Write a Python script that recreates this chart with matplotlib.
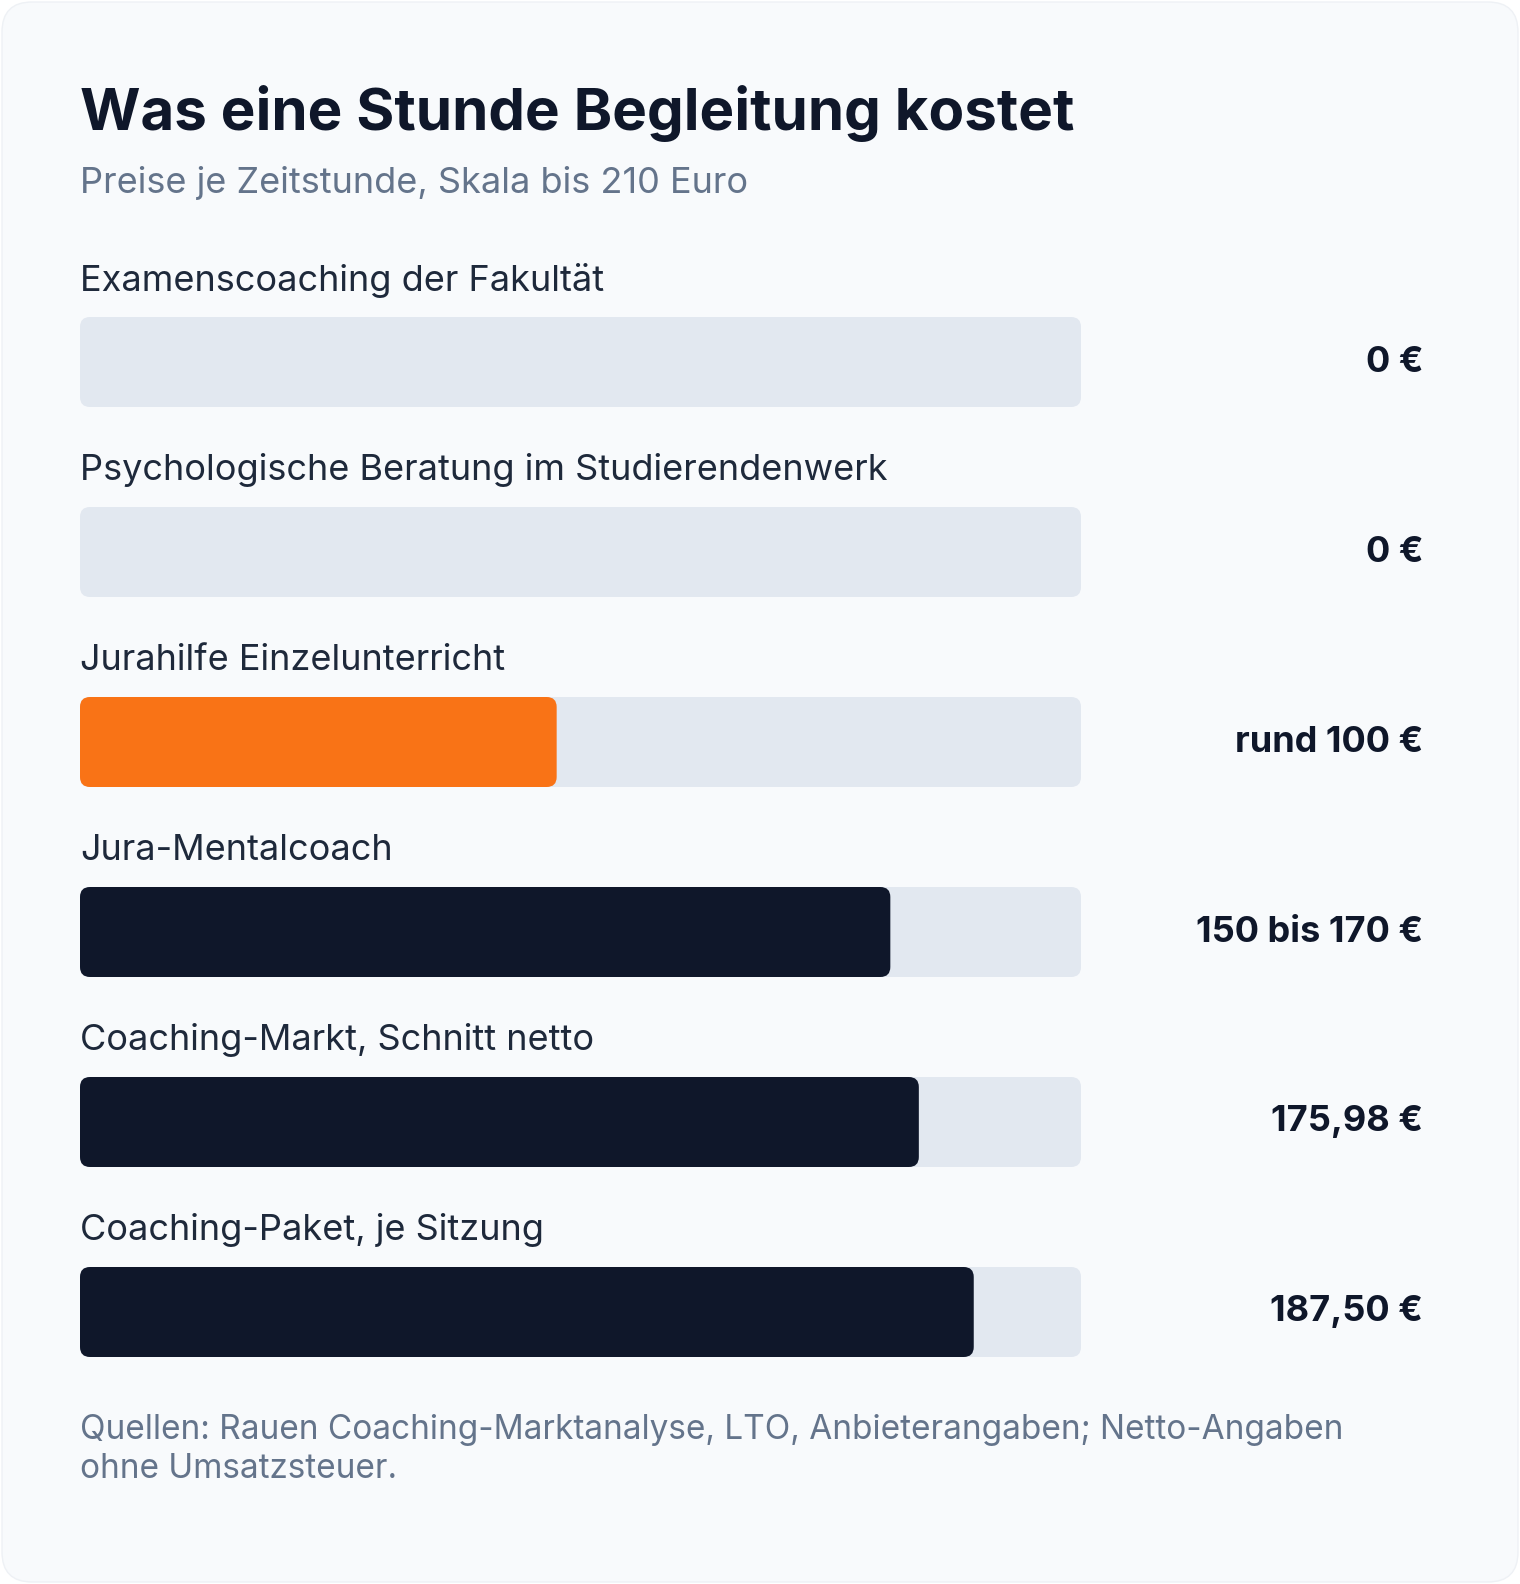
import matplotlib
matplotlib.use("Agg")
import matplotlib.pyplot as plt
from matplotlib.patches import FancyBboxPatch

plt.rcParams["font.family"] = ["Inter", "DejaVu Sans"]

labels = [
    "Examenscoaching der Fakultät",
    "Psychologische Beratung im Studierendenwerk",
    "Jurahilfe Einzelunterricht",
    "Jura-Mentalcoach",
    "Coaching-Markt, Schnitt netto",
    "Coaching-Paket, je Sitzung",
]
values = [0, 0, 100, 170, 175.98, 187.50]
value_texts = ["0 €", "0 €", "rund 100 €", "150 bis 170 €", "175,98 €", "187,50 €"]
colors = ["#0f172a", "#0f172a", "#f97316", "#0f172a", "#0f172a", "#0f172a"]
scale_max = 210

W, H = 1520, 1584
fig = plt.figure(figsize=(W / 100, H / 100), dpi=100)
fig.patch.set_facecolor("white")

# background axes in pixel coords
bg = fig.add_axes([0, 0, 1, 1])
bg.set_xlim(0, W)
bg.set_ylim(H, 0)
bg.axis("off")
bg.add_patch(FancyBboxPatch((2, 2), W - 4, H - 4, boxstyle="round,pad=0,rounding_size=30",
                            fc="#f8fafc", ec="#eef1f5", lw=1))
bg.text(80, 113, "Was eine Stunde Begleitung kostet", fontsize=42, fontweight="bold",
        color="#0f172a", va="center")
bg.text(80, 183, "Preise je Zeitstunde, Skala bis 210 Euro", fontsize=26,
        color="#64748b", va="center")
bg.text(80, 1430, "Quellen: Rauen Coaching-Marktanalyse, LTO, Anbieterangaben; Netto-Angaben",
        fontsize=24, color="#64748b", va="center")
bg.text(80, 1469, "ohne Umsatzsteuer.", fontsize=24, color="#64748b", va="center")

# bar axes: x in euros, y in pixels
x0, x1, y0, y1 = 80, 1081, 317, 1357
ax = fig.add_axes([x0 / W, 1 - y1 / H, (x1 - x0) / W, (y1 - y0) / H])
ax.set_xlim(0, scale_max)
ax.set_ylim(y1, y0)
ax.axis("off")
ax.patch.set_alpha(0)

xpx = scale_max / (x1 - x0)
r = 10 * xpx
asp = 1 / xpx
step, bh = 190, 90
for i, (lab, v, vt, c) in enumerate(zip(labels, values, value_texts, colors)):
    top = y0 + step * i
    ax.add_patch(FancyBboxPatch((0, top), scale_max, bh,
                                boxstyle=f"round,pad=0,rounding_size={r}",
                                mutation_aspect=asp, fc="#e2e8f0", ec="none"))
    if v > 0:
        ax.add_patch(FancyBboxPatch((0, top), v, bh,
                                    boxstyle=f"round,pad=0,rounding_size={r}",
                                    mutation_aspect=asp, fc=c, ec="none"))
    bg.text(80, top - 37, lab, fontsize=26, color="#1e293b", va="center")
    bg.text(1423, top + bh / 2, vt, fontsize=26, fontweight="bold", color="#0f172a",
            va="center", ha="right")

fig.savefig("out.png", dpi=100)
